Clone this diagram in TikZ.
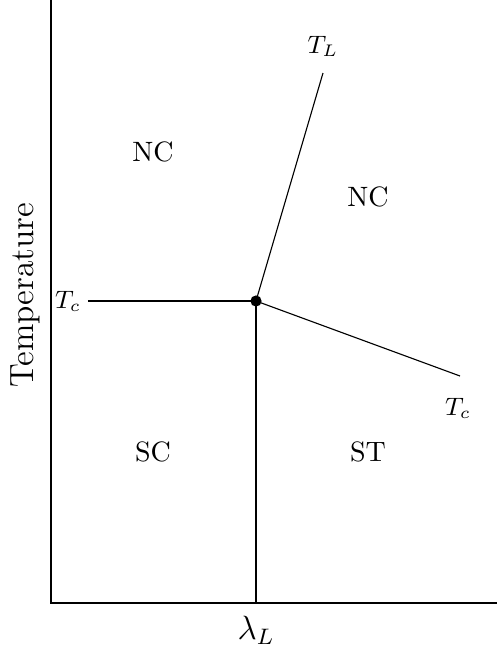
\documentclass[tikz,border=0pt]{standalone}
\usepackage{amsmath,amssymb}
\usepackage{tikz}
\usetikzlibrary{calc}

\begin{document}
\begin{tikzpicture}[x=0.357pt,y=-0.357pt,
    region/.style={font=\normalsize},
    endlabel/.style={font=\small}]
    \useasboundingbox (0,0) rectangle (497,646);
    % Axes
    \coordinate (top) at (51,0);
    \coordinate (origin) at (51,603);
    \coordinate (right) at (497,603);
    \draw (top) -- (origin) -- (right);
    \node[rotate=90,font=\large] (temp) at (25,295) {Temperature};
    \node[font=\large] (lam) at (256,630) {$\lambda_L$};
    % Triple point
    \coordinate (tp) at (256,301);
    \coordinate (foot) at (256,603);
    \coordinate (lend) at (88,301);
    \coordinate (uend) at (323,73);
    \coordinate (rend) at (460,376);
    \node[endlabel] (tcleft) at (68,301) {$T_c$};
    \node[endlabel] (tlab) at (323,46) {$T_L$};
    \node[endlabel] (tcright) at (458,408) {$T_c$};
    % Phase boundaries
    \draw (lend) -- (tp);
    \draw (tp) -- (uend);
    \draw (tp) -- (rend);
    \draw (tp) -- (foot);
    \fill (tp) circle (2pt);
    % Regions
    \node[region] (nc1) at (153,152) {NC};
    \node[region] (nc2) at (368,197) {NC};
    \node[region] (sc) at (153,452) {SC};
    \node[region] (st) at (368,452) {ST};
\end{tikzpicture}
\end{document}
